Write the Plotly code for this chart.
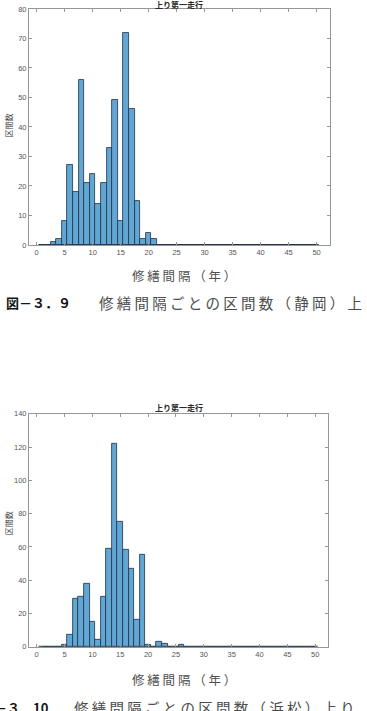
import plotly.graph_objects as go

# ---------------- data ----------------
bins = list(range(1, 51))  # repair interval (years), bin centres

counts_shizuoka = [0, 0, 1, 2, 8, 27, 18, 56, 21, 24,
                   14, 21, 33, 49, 8, 72, 46, 15, 2, 4,
                   2] + [0] * 29
counts_hamamatsu = [0, 0, 0, 0, 1, 7, 29, 30, 38, 15,
                    4, 30, 59, 122, 75, 58, 47, 16, 55, 1,
                    0, 3, 2, 0, 0, 1] + [0] * 24

x_ticks = list(range(0, 51, 5))
y_ticks_top = list(range(0, 81, 10))
y_ticks_bottom = list(range(0, 141, 20))

panel_title = "上り第一走行"
y_label = "区間数"
x_label = "修繕間隔（年）"
caption_top_num = "図－３．９"
caption_top_txt = "修繕間隔ごとの区間数（静岡）上り"
caption_bot_num = "図－３．10"
caption_bot_txt = "修繕間隔ごとの区間数（浜松）上り"

# ---------------- style ----------------
W, H = 367, 711
FILL = "rgb(98,166,211)"
EDGE = "rgb(30,50,72)"
AXC = "rgb(150,150,150)"
TICKC = "rgb(85,85,85)"
FONT = "Noto Sans CJK JP"


def px(x):
    return x / W


def py(y):
    return 1 - y / H


def spaced(s):
    return " ".join(list(s))


fig = go.Figure()

panels = [
    dict(counts=counts_shizuoka, xa="x", ya="y", top=5, bottom=244, left=29, right=330,
         xr=[-1.37, 52.4], yr=[0, 80], yt=y_ticks_top),
    dict(counts=counts_hamamatsu, xa="x2", ya="y2", top=415, bottom=651, left=29, right=328,
         xr=[-1.38, 52.3], yr=[0, 140], yt=y_ticks_bottom),
]

for i, p in enumerate(panels):
    fig.add_trace(go.Bar(x=bins, y=p["counts"], width=1,
                         marker=dict(color=FILL, line=dict(color=EDGE, width=0.8)),
                         xaxis=p["xa"], yaxis=p["ya"], showlegend=False))
    fig.add_trace(go.Scatter(x=[bins[0], bins[-1]], y=[0, 0], mode="lines",
                             line=dict(color=EDGE, width=1),
                             xaxis=p["xa"], yaxis=p["ya"], showlegend=False))
    sfx = "" if i == 0 else str(i + 1)
    common = dict(ticks="inside", ticklen=3, tickcolor=AXC, showline=True, linecolor=AXC,
                  linewidth=1, mirror="allticks", showgrid=False, zeroline=False,
                  tickfont=dict(size=7.5, color=TICKC, family="Liberation Sans"))
    fig.update_layout(**{
        "xaxis" + sfx: dict(domain=[px(p["left"]), px(p["right"])], range=p["xr"],
                            tickvals=x_ticks, anchor="y" + sfx, **common),
        "yaxis" + sfx: dict(domain=[py(p["bottom"]), py(p["top"])], range=p["yr"],
                            tickvals=p["yt"], anchor="x" + sfx, **common),
    })

P = dict(xref="paper", yref="paper", showarrow=False)
ann = []
# panel titles
for yc in (0, 409):
    ann.append(dict(x=px(179), y=py(yc), text="<b>" + panel_title + "</b>",
                    font=dict(size=8, color="rgb(40,40,40)", family=FONT),
                    xanchor="center", yanchor="middle", **P))
# y labels
for yc in (123, 526):
    ann.append(dict(x=px(8), y=py(yc), text=y_label, textangle=-90,
                    font=dict(size=8, color="rgb(60,60,60)", family=FONT),
                    xanchor="center", yanchor="middle", **P))
# x labels
for yc in (275, 684):
    ann.append(dict(x=px(184), y=py(yc), text=spaced(x_label),
                    font=dict(size=12.5, color="rgb(80,80,80)", family=FONT),
                    xanchor="center", yanchor="middle", **P))
# captions: figure number (bold black) + description (grey, spaced)
for num, txt, x_num, x_txt, yc in ((caption_top_num, caption_top_txt, 4, 97, 302),
                                   (caption_bot_num, caption_bot_txt, -21, 72, 713)):
    ann.append(dict(x=px(x_num), y=py(yc), xanchor="left", yanchor="middle",
                    text="<b>" + num + "</b>",
                    font=dict(size=13, color="rgb(20,20,20)", family=FONT), **P))
    ann.append(dict(x=px(x_txt), y=py(yc), xanchor="left", yanchor="middle",
                    text=spaced(txt),
                    font=dict(size=14.5, color="rgb(75,75,75)", family=FONT), **P))

fig.update_layout(width=W, height=H, margin=dict(l=0, r=0, t=0, b=0),
                  paper_bgcolor="white", plot_bgcolor="white", bargap=0,
                  annotations=ann)

fig.write_html("out.html")
